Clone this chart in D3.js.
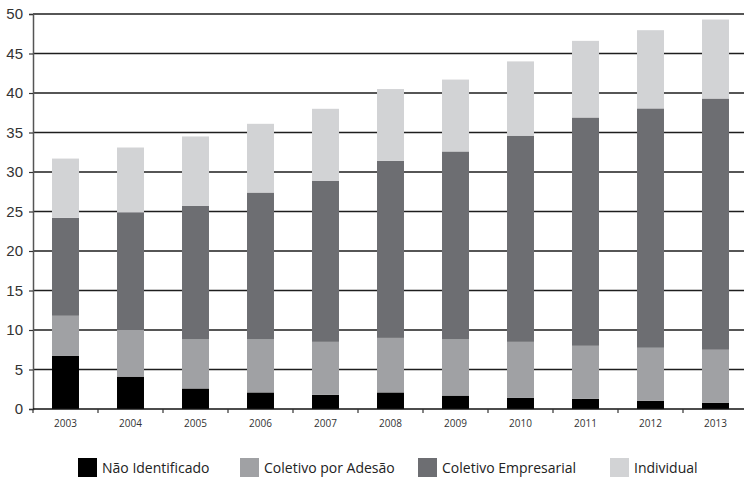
<!DOCTYPE html>
<html>
<head>
<meta charset="utf-8">
<script src="https://cdn.jsdelivr.net/npm/d3@7"></script>
<style>
    body { margin: 0; background: #fff; }
    svg { display: block; font-family: "Open Sans", "Noto Sans", sans-serif; }
    .grid line { stroke: #1e1e1e; stroke-width: 1.6; }
    .y-axis text { font-size: 15px; fill: #333; }
    .x-axis text { font-size: 10px; fill: #333; }
    .legend-text { font-size: 14px; fill: #222; }
</style>
</head>
<body>
<svg width="744" height="480"></svg>
<script>
// Data (segment sizes per year)
var years = ["2003", "2004", "2005", "2006", "2007", "2008", "2009", "2010", "2011", "2012", "2013"];
var naoIdentificado = [6.75, 4.1, 2.6, 2.1, 1.8, 2.1, 1.7, 1.4, 1.3, 1.05, 0.8];
var coletivoAdesao = [5.05, 5.9, 6.2, 6.7, 6.7, 6.9, 7.1, 7.1, 6.7, 6.7, 6.7];
var coletivoEmpresarial = [12.4, 14.9, 16.9, 18.6, 20.4, 22.4, 23.8, 26.1, 28.9, 30.3, 31.8];
var individual = [7.5, 8.2, 8.8, 8.7, 9.1, 9.1, 9.1, 9.4, 9.7, 9.9, 10.0];
var seriesNames = ["Não Identificado", "Coletivo por Adesão", "Coletivo Empresarial", "Individual"];
var yTicks = [0, 5, 10, 15, 20, 25, 30, 35, 40, 45, 50];

var colors = ["#000000", "#a0a1a4", "#6d6e72", "#d2d3d5"];
var legendX = [78, 240, 418, 610];

// SVG settings
var svg = d3.select("svg"),
    plotLeft = 33,
    plotRight = 748,
    plotTop = 14,
    plotBottom = 409;

var table = years.map(function (y, i) {
    return {
        year: y,
        "Não Identificado": naoIdentificado[i],
        "Coletivo por Adesão": coletivoAdesao[i],
        "Coletivo Empresarial": coletivoEmpresarial[i],
        "Individual": individual[i]
    };
});

var xScale = d3.scaleBand().domain(years).range([plotLeft, plotRight]).paddingInner(0.585).paddingOuter(0.2925),
    yScale = d3.scaleLinear().domain([0, 50]).range([plotBottom, plotTop]);

// Gridlines
svg.append("g")
    .attr("class", "grid")
    .selectAll("line")
    .data(yTicks.slice(1))
    .enter()
    .append("line")
    .attr("x1", plotLeft)
    .attr("x2", 744)
    .attr("y1", d => yScale(d))
    .attr("y2", d => yScale(d));

// Stacked bars
var stack = d3.stack().keys(seriesNames)(table);

svg.append("g")
    .selectAll("g")
    .data(stack)
    .enter()
    .append("g")
    .attr("fill", (d, i) => colors[i])
    .selectAll("rect")
    .data(d => d)
    .enter()
    .append("rect")
    .attr("x", d => xScale(d.data.year))
    .attr("width", xScale.bandwidth())
    .attr("y", d => yScale(d[1]))
    .attr("height", d => yScale(d[0]) - yScale(d[1]));

// Y axis
var yAxis = svg.append("g")
    .attr("class", "y-axis")
    .attr("transform", "translate(" + plotLeft + ",0)")
    .call(d3.axisLeft(yScale).tickValues(yTicks).tickSize(4).tickPadding(6));
yAxis.select(".domain").attr("stroke", "#555").attr("stroke-width", 1.5);
yAxis.selectAll(".tick line").attr("stroke", "#333").attr("stroke-width", 1.2);

// X axis: baseline with ticks between categories
var step = xScale.step();
var xAxis = svg.append("g")
    .attr("class", "x-axis");
xAxis.append("line")
    .attr("x1", plotLeft)
    .attr("x2", 744)
    .attr("y1", plotBottom)
    .attr("y2", plotBottom)
    .attr("stroke", "#111")
    .attr("stroke-width", 1.6);
xAxis.selectAll(".xtick")
    .data(years)
    .enter()
    .append("line")
    .attr("x1", (d, i) => plotLeft + i * step)
    .attr("x2", (d, i) => plotLeft + i * step)
    .attr("y1", plotBottom)
    .attr("y2", plotBottom + 4)
    .attr("stroke", "#333")
    .attr("stroke-width", 1.2);
xAxis.selectAll("text")
    .data(years)
    .enter()
    .append("text")
    .attr("x", d => xScale(d) + xScale.bandwidth() / 2)
    .attr("y", 427)
    .attr("text-anchor", "middle")
    .text(d => d);

// Legend
var legend = svg.append("g");
seriesNames.forEach(function (name, i) {
    legend.append("rect")
        .attr("x", legendX[i])
        .attr("y", 458)
        .attr("width", 19)
        .attr("height", 19)
        .attr("fill", colors[i]);
    legend.append("text")
        .attr("class", "legend-text")
        .attr("x", legendX[i] + 24)
        .attr("y", 473)
        .text(name);
});
</script>
</body>
</html>
